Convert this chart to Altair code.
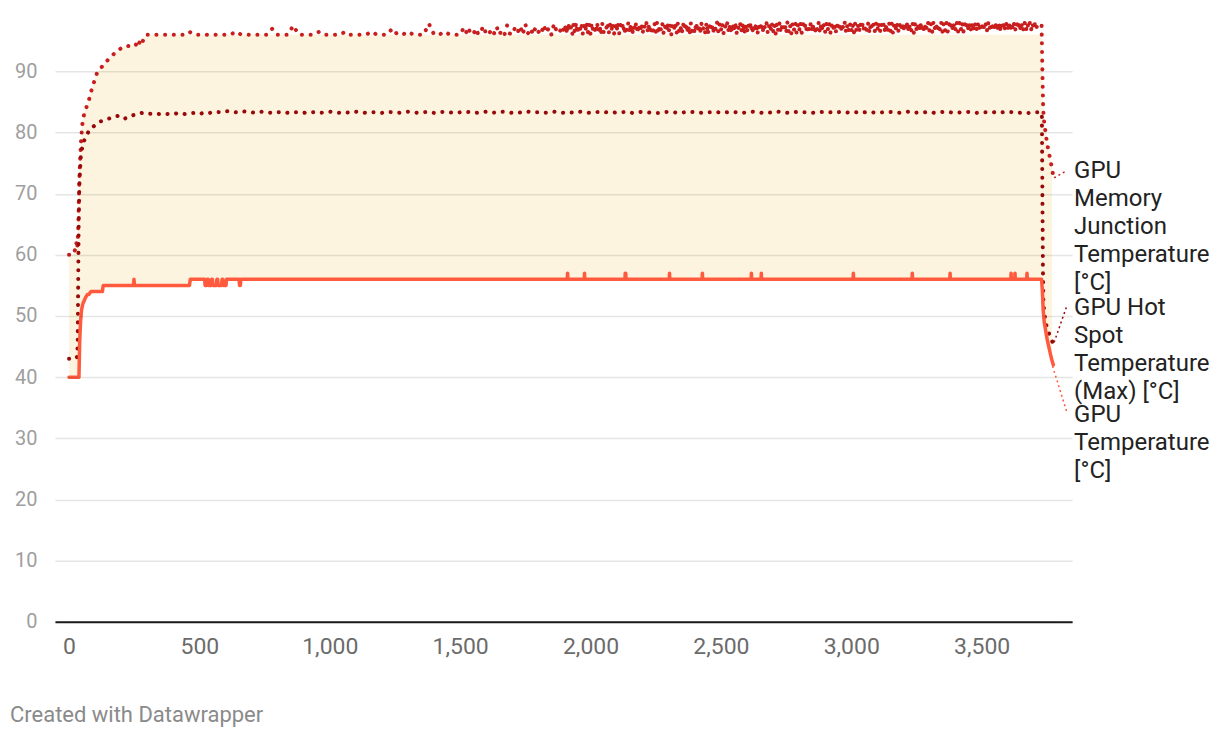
import altair as alt
import pandas as pd

# ---------------- data ----------------
# GPU Memory Junction Temperature [°C]
mem_start_t = [0, 15, 25, 28, 31, 33, 35, 37, 40, 45, 50, 55, 61, 73, 88, 107, 125, 138, 155, 176, 200,
               222, 240, 255, 262, 268, 275, 282, 290, 300, 320]
mem_start_v = [60, 60, 61, 62, 61, 62, 64, 68, 73, 78, 81, 82.5, 83.5, 84.8, 87.2, 89.7, 90.7, 91.3, 92.2, 93, 93.8,
               94.2, 94, 94.2, 95, 94.5, 95.3, 94.8, 95.8, 96, 96]
# 340 s - 1480 s, every 20 s
mem_p1_v = [
    96, 96, 96, 96, 96, 96, 96.5, 96, 96, 96, 96, 96, 96, 96, 96, 96.5, 96, 96, 96, 96, 96, 96, 97, 96, 96, 96, 97.5,
    96, 96, 96, 96, 96.5, 96, 96,
    96, 96, 96.5, 96, 96, 96, 96, 96.5, 96, 96, 96, 97, 96, 96, 96.5, 96, 96, 96, 97.8, 96, 96, 96.5, 96, 96,
]
# 1500 s - 1890 s, every 10 s
mem_p2_v = [
    96, 96.8, 96, 97.2, 96.2, 96, 97, 96, 96.6, 97.4, 96, 96, 96.9, 96.2, 97.3, 96, 96.7, 96, 97.5, 96.2,
    96, 97.1, 96.3, 97.4, 96, 97.7, 96.2, 97, 96, 97.3, 96.5, 96, 97.6, 96.3, 97.1, 96, 97.8, 96.5, 96.2, 97.4,
]
# 1900 s - 3720 s, every 5 s
mem_p3_v = [
    96.3, 97.6, 96.1, 97.9, 96.6, 97.2, 96.0, 97.8, 96.4, 98.0, 96.2, 97.4, 96.8, 97.9, 96.1, 97.5, 96.5, 98.0, 96.3, 97.7,
    96.1, 97.9, 96.7, 97.3, 96.2, 98.0, 96.5, 97.6, 96.0, 97.8, 96.4, 97.2, 96.9, 98.0, 96.2, 97.7, 96.6, 97.9, 96.1, 97.5,
    96.5, 98.0, 96.2, 97.6, 96.8, 97.9, 96.1, 97.4, 96.6, 98.0, 96.3, 97.8, 96.0, 97.5, 96.7, 98.0, 96.2, 97.7, 96.4, 97.9,
    96.2, 97.6, 96.9, 98.0, 96.3, 97.8, 96.1, 97.3, 96.6, 97.9, 96.4, 98.0, 96.1, 97.6, 96.8, 97.9, 96.3, 97.5, 96.5, 98.0,
    96.4, 97.8, 96.0, 97.5, 96.7, 98.0, 96.2, 97.9, 96.5, 97.4, 96.1, 97.8, 96.8, 98.0, 96.3, 97.6, 96.0, 97.9, 96.6, 97.3,
    96.2, 98.0, 96.5, 97.7, 96.1, 97.9, 96.7, 97.4, 96.3, 98.0, 96.0, 97.6, 96.6, 97.9, 96.2, 97.5, 96.8, 98.0, 96.4, 97.7,
    96.6, 97.9, 96.2, 97.5, 96.9, 98.0, 96.3, 97.7, 96.1, 97.8, 96.5, 98.0, 96.2, 97.4, 96.7, 97.9, 96.4, 98.0, 96.1, 97.6,
    96.3, 97.8, 96.8, 98.0, 96.2, 97.6, 96.5, 97.9, 96.0, 97.5, 96.6, 98.0, 96.3, 97.7, 96.9, 97.9, 96.2, 97.4, 96.5, 98.0,
    96.4, 97.7, 96.1, 97.9, 96.6, 98.0, 96.3, 97.5, 96.8, 97.9, 96.2, 98.0, 96.5, 97.6, 96.1, 97.8, 96.7, 98.0, 96.3, 97.6,
    96.5, 98.0, 96.3, 97.7, 96.9, 97.9, 96.2, 97.6, 96.6, 98.0, 96.4, 97.8, 96.1, 97.5, 96.7, 98.0, 96.3, 97.9, 96.6, 97.7,
    96.4, 97.9, 96.8, 98.0, 96.3, 97.6, 96.6, 97.9, 96.2, 97.7, 96.7, 98.0, 96.4, 97.8, 96.9, 98.0, 96.3, 97.6, 96.6, 97.9,
    96.5, 97.8, 96.2, 98.0, 96.7, 97.7, 96.4, 97.9, 96.9, 98.0, 96.3, 97.6, 96.6, 97.9, 96.2, 98.0, 96.8, 97.7, 96.5, 97.9,
    96.7, 98.0, 96.4, 97.8, 96.9, 97.9, 96.3, 97.6, 96.7, 98.0, 96.5, 97.9, 96.2, 97.7, 96.8, 98.0, 96.4, 97.8, 96.7, 98.0,
    96.5, 97.9, 96.8, 98.0, 96.4, 97.7, 96.7, 97.9, 96.3, 98.0, 96.9, 97.8, 96.5, 98.0, 96.6, 97.7, 96.4, 97.9, 96.8, 98.0,
    96.6, 97.8, 96.4, 98.0, 96.9, 97.9, 96.5, 97.7, 96.8, 98.0, 96.4, 97.9, 96.7, 98.0, 96.5, 97.8, 96.9, 98.0, 96.6, 97.9,
    96.8, 98.0, 96.5, 97.9, 96.7, 98.0, 96.4, 97.8, 96.9, 98.0, 96.6, 97.9, 96.5, 98.0, 96.8, 97.8, 96.6, 98.0, 96.7, 97.9,
    96.6, 98.0, 96.9, 97.8, 96.5, 98.0, 96.8, 97.9, 96.6, 98.0, 96.7, 97.8, 96.9, 98.0, 96.5, 97.9, 96.8, 98.0, 96.7, 97.9,
    96.9, 98.0, 96.6, 97.9, 96.8, 98.0, 96.7, 97.8, 96.9, 98.0, 96.6, 97.9, 96.8, 98.0, 96.7, 97.9, 97.0, 98.0, 96.8, 97.9,
    96.9, 98.0, 97.1, 97.8, 97.5,
]
mem_end_t = [3730, 3733, 3736, 3739, 3751, 3766, 3775]
mem_end_v = [97.5, 90, 84, 82, 78.2, 75, 72.8]

# GPU Hot Spot Temperature (Max) [°C]
hot_start_t = [0, 25, 30, 33, 35, 37, 40, 45, 52, 61, 73, 85, 100, 120, 138, 160, 176, 195, 215, 235, 255,
               280, 300, 320]
hot_start_v = [43, 43, 43.2, 45, 55, 65, 72, 76, 78, 79, 80, 80.7, 81.2, 81.8, 82, 82.4, 82.6, 82.8, 82.3, 82.6, 83,
               83.2, 83, 83.1]
# 340 s - 3720 s, every 20 s
hot_p_v = [
    83, 83.1, 83, 83, 83.2, 83, 83.1, 83.2, 83, 83.3, 83.2, 83.4, 83.3, 83.5, 83.4, 83.3, 83.5, 83.4, 83.3, 83.2,
    83.4, 83.3, 83.2, 83.3, 83.4, 83.2, 83.3, 83.3, 83.2, 83.4, 83.3, 83.2, 83.3, 83.4,
    83.3, 83.2, 83.3, 83.2, 83.4, 83.3, 83.2, 83.3, 83.3, 83.2, 83.4, 83.3, 83.2, 83.3, 83.4, 83.3, 83.2, 83.3,
    83.4, 83.2, 83.3, 83.4, 83.3, 83.2, 83.3,
    83.4, 83.3, 83.2, 83.3, 83.4, 83.2, 83.3, 83.4, 83.3, 83.2, 83.3, 83.2, 83.4, 83.3, 83.3, 83.2, 83.3, 83.4,
    83.3, 83.2,
    83.3, 83.2, 83.4, 83.3, 83.2, 83.3, 83.4, 83.3, 83.2, 83.3, 83.3, 83.4, 83.2, 83.3, 83.4, 83.3, 83.2, 83.2,
    83.3, 83.4,
    83.3, 83.2, 83.3, 83.4, 83.3, 83.2, 83.3, 83.3, 83.4, 83.2, 83.3, 83.4, 83.3, 83.2, 83.3, 83.4, 83.3, 83.2,
    83.3, 83.2,
    83.4, 83.3, 83.2, 83.3, 83.4, 83.3, 83.3, 83.2, 83.3, 83.4, 83.3, 83.2, 83.4, 83.3, 83.2, 83.3, 83.2, 83.4,
    83.3, 83.2,
    83.3, 83.4, 83.3, 83.2, 83.3, 83.4, 83.2, 83.3, 83.3, 83.4, 83.2, 83.3, 83.4, 83.3, 83.2, 83.3, 83.4, 83.3,
    83.2, 83.3,
    83.3, 83.4, 83.2, 83.3, 83.4, 83.3, 83.2, 83.3, 83.2, 83.3, 83.3,
]
hot_end_t = [3731, 3733, 3735, 3737, 3745, 3755, 3772]
hot_end_v = [83.2, 70, 58, 52, 49, 47.5, 45.7]

# GPU Temperature [°C]
gpu_t = [0, 38, 39, 41, 44, 48, 53, 58, 63, 70, 76, 84, 88, 128, 131, 247, 249, 251, 462, 465,
         520, 522, 528, 530, 534, 536, 545, 547, 550, 552, 565, 567, 570, 572, 585, 587, 590, 592, 602, 604,
         652, 654, 657, 659,
         1911, 1912, 1913, 1976, 1977, 1978, 2132, 2133, 2135, 2136, 2302, 2303, 2304, 2428, 2429, 2430,
         2616, 2617, 2618, 2654, 2655, 2656, 3007, 3008, 3009, 3233, 3234, 3235, 3378, 3379, 3380,
         3612, 3613, 3614, 3627, 3628, 3629, 3673, 3674, 3675,
         3730, 3733, 3736, 3740, 3746, 3752, 3760, 3768, 3775]
gpu_v = [40, 40, 42, 46, 49, 51, 52, 52.5, 53, 53.5, 53.5, 54, 54, 54, 55, 55, 56, 55, 55, 56,
         56, 55, 55, 56, 56, 55, 55, 56, 56, 55, 55, 56, 56, 55, 55, 56, 56, 55, 55, 56,
         56, 55, 55, 56,
         56, 57, 56, 56, 57, 56, 56, 57, 57, 56, 56, 57, 56, 56, 57, 56,
         56, 57, 56, 56, 57, 56, 56, 57, 56, 56, 57, 56, 56, 57, 56,
         56, 57, 56, 56, 57, 56, 56, 57, 56,
         56, 54, 51, 49, 47.5, 46, 44.5, 43, 42]

# shaded band (top edge of the light fill)
fill_t = [0, 15, 25, 28, 33, 37, 40, 45, 50, 55, 61, 73, 88, 107, 125, 138, 155, 176, 200, 222, 255, 275,
          300, 3730, 3733, 3736, 3739, 3751, 3766, 3770]
fill_top = [60, 60, 61, 62, 62, 68, 73, 78, 81, 82.5, 83.5, 84.8, 87.2, 89.7, 90.7, 91.3, 92.2, 93, 93.8, 94.2,
            94.2, 95, 96, 96, 90, 84, 82, 78.2, 75, 74]

# end labels
label_text = ["GPU\nMemory\nJunction\nTemperature\n[°C]",
              "GPU Hot\nSpot\nTemperature\n(Max) [°C]",
              "GPU\nTemperature\n[°C]"]
label_y = [73.6, 51.2, 33.6]
label_colors = ["#c91f1f", "#9b0b0b", "#ff5a3d"]
conn_x1 = [3778, 3778, 3772]
conn_y1 = [72.6, 45.7, 41.8]
conn_x2 = [3828, 3828, 3828]
conn_y2 = [73.8, 51.8, 34.1]

x_ticks = [0, 500, 1000, 1500, 2000, 2500, 3000, 3500]
y_ticks = [0, 10, 20, 30, 40, 50, 60, 70, 80, 90]

# ---------------- tables ----------------
mem_p1_t = [340 + 20 * i for i in range(len(mem_p1_v))]
mem_p2_t = [1500 + 10 * i for i in range(len(mem_p2_v))]
mem_p3_t = [1900 + 5 * i for i in range(len(mem_p3_v))]
hot_p_t = [340 + 20 * i for i in range(len(hot_p_v))]

mem_df = pd.DataFrame({"t": mem_start_t + mem_p1_t + mem_p2_t + mem_p3_t + mem_end_t,
                       "v": mem_start_v + mem_p1_v + mem_p2_v + mem_p3_v + mem_end_v})
hot_df = pd.DataFrame({"t": hot_start_t + hot_p_t + hot_end_t,
                       "v": hot_start_v + hot_p_v + hot_end_v})
gpu_df = pd.DataFrame({"t": gpu_t, "v": gpu_v})
fill_df = pd.DataFrame({"t": fill_t, "v": fill_top})
lab_df = pd.DataFrame({"text": label_text, "y": label_y})
conn_df = pd.DataFrame({"x": conn_x1, "y": conn_y1, "x2": conn_x2, "y2": conn_y2, "c": label_colors})

FONT = "Roboto"
xs = alt.Scale(domain=[-54, 3847], nice=False, zero=False)
ys = alt.Scale(domain=[0, 99], nice=False, zero=False)

x_axis = alt.Axis(values=x_ticks, format=",.0f", title=None, grid=False, ticks=False,
                  labelFontSize=23, labelColor="#6b6b6b", labelFont=FONT, labelPadding=14,
                  domainColor="#1a1a1a", domainWidth=2, zindex=2)
y_axis = alt.Axis(values=y_ticks, title=None, grid=True, ticks=False, domain=False,
                  gridColor="#000000", gridOpacity=0.1, gridWidth=1.5,
                  labelFontSize=20, labelColor="#9e9e9e", labelFont=FONT, labelPadding=18, zindex=1)

fill = alt.Chart(fill_df).mark_area(color="#fdf4e0", interpolate="linear").encode(
    x=alt.X("t:Q", scale=xs, axis=x_axis),
    y=alt.Y("v:Q", scale=ys, axis=y_axis),
)
white = alt.Chart(gpu_df).mark_area(color="#ffffff", interpolate="linear").encode(
    x=alt.X("t:Q", scale=xs), y=alt.Y("v:Q", scale=ys))

dot = [0.1, 8.6]
mem_line = alt.Chart(mem_df).mark_line(color="#c81e1e", strokeWidth=4, strokeDash=dot,
                                       strokeCap="round", strokeJoin="round").encode(
    x=alt.X("t:Q", scale=xs), y=alt.Y("v:Q", scale=ys))
hot_line = alt.Chart(hot_df).mark_line(color="#980a0a", strokeWidth=4, strokeDash=dot,
                                       strokeCap="round", strokeJoin="round").encode(
    x=alt.X("t:Q", scale=xs), y=alt.Y("v:Q", scale=ys))
gpu_line = alt.Chart(gpu_df).mark_line(color="#ff5a3d", strokeWidth=3.5,
                                       strokeCap="round", strokeJoin="round").encode(
    x=alt.X("t:Q", scale=xs), y=alt.Y("v:Q", scale=ys))

conns = alt.Chart(conn_df).mark_rule(strokeWidth=1.5, strokeDash=[2, 3]).encode(
    x=alt.X("x:Q", scale=xs), y=alt.Y("y:Q", scale=ys),
    x2="x2:Q", y2="y2:Q",
    color=alt.Color("c:N", scale=None))

labels = alt.Chart(lab_df).mark_text(align="left", baseline="top", dy=-13, fontSize=24, font=FONT,
                                     lineBreak="\n", lineHeight=28, color="#222222").encode(
    x=alt.value(1020), y=alt.Y("y:Q", scale=ys), text="text:N")

footer = alt.Chart(pd.DataFrame({"s": ["Created with Datawrapper"]})).mark_text(
    align="left", baseline="middle", fontSize=22, font=FONT, color="#8a8a8a").encode(
    x=alt.value(-45), y=alt.value(699), text="s:N")

chart = alt.layer(fill, white, mem_line, hot_line, gpu_line, conns, labels, footer).properties(
    width=1018, height=606,
    autosize=alt.AutoSizeParams(type="none"),
    padding={"left": 47, "top": 8, "right": 140, "bottom": 108},
).configure(background="#ffffff").configure_view(strokeWidth=0, stroke=None)

chart.save("out.html", embed_options={"renderer": "svg", "actions": False})
